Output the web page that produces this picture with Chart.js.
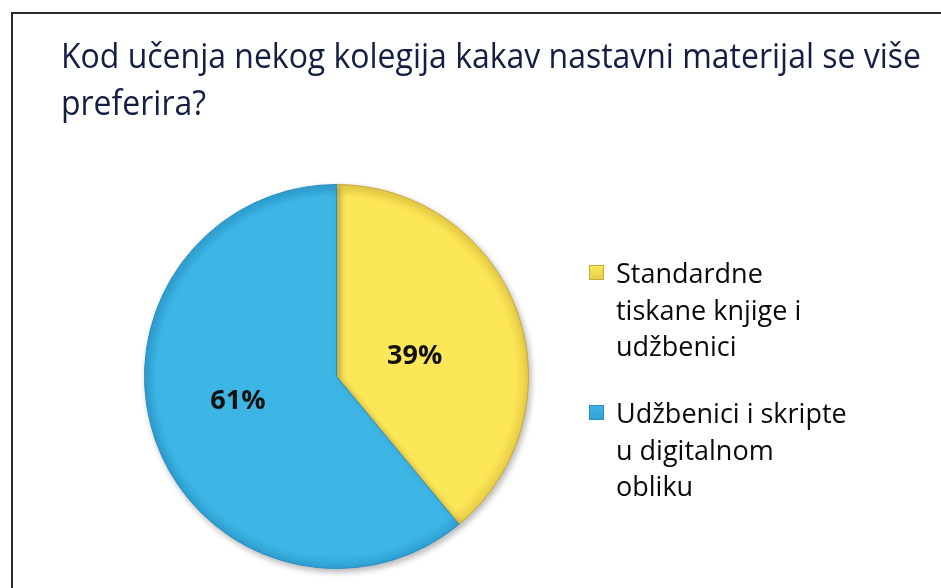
<!DOCTYPE html>
<html>
<head>
<meta charset="utf-8">
<script src="https://cdn.jsdelivr.net/npm/chart.js@4.4.1/dist/chart.umd.min.js"></script>
<style>
    html, body { margin: 0; padding: 0; background: #fff; overflow: hidden; }
    #frame { position: absolute; left: 11px; top: 12px; width: 1000px; height: 1000px; border: 2px solid #2b2b2b; }
    #wrap { position: absolute; left: 0; top: 0; width: 941px; height: 588px; }
</style>
</head>
<body>
<div id="frame"></div>
<div id="wrap"><canvas id="pieChart"></canvas></div>
<script>
const titleLines = ['Kod učenja nekog kolegija kakav nastavni materijal se više', 'preferira?'];
const categories = ['Standardne tiskane knjige i udžbenici', 'Udžbenici i skripte u digitalnom obliku'];
const legendLines = [
    ['Standardne', 'tiskane knjige i', 'udžbenici'],
    ['Udžbenici i skripte', 'u digitalnom', 'obliku']
];
const shares = [39, 61];
const sliceColors = ['#fce758', '#3db6e6'];
const sliceEdges = ['#c9a93c', '#2b8fbf'];
const sliceShades = ['#e8cc45', '#2f9fd2'];

// title drawn on the canvas, squeezed to the width of the original Calibri line
const titlePlugin = {
    id: 'slideTitle',
    afterDraw(chart) {
        const c = chart.ctx;
        c.save();
        c.font = '34px "Open Sans"';
        c.fillStyle = '#141d42';
        c.textBaseline = 'alphabetic';
        const w0 = c.measureText(titleLines[0]).width;
        const k = Math.min(1, 860 / w0);
        titleLines.forEach(function (line, i) {
            const w = c.measureText(line).width;
            c.fillText(line, 61, 68 + i * 47, w * k);
        });
        c.restore();
    }
};

// legend with wrapped lines on the right
const sideLegend = {
    id: 'sideLegend',
    afterDraw(chart) {
        const c = chart.ctx;
        const starts = [283, 423];
        c.save();
        legendLines.forEach(function (lines, i) {
            const y0 = starts[i];
            const g = c.createLinearGradient(589, y0 - 18, 589, y0 - 3);
            g.addColorStop(0, sliceColors[i]);
            g.addColorStop(1, sliceShades[i]);
            c.fillStyle = g;
            c.fillRect(589, y0 - 18, 15, 15);
            c.strokeStyle = sliceEdges[i];
            c.lineWidth = 1;
            c.strokeRect(589.5, y0 - 17.5, 14, 14);
            c.fillStyle = '#0a0a0a';
            c.font = '27px "Open Sans"';
            c.textBaseline = 'alphabetic';
            lines.forEach(function (t, j) {
                c.fillText(t, 616, y0 + j * 36.5);
            });
        });
        c.restore();
    }
};

// percentage labels inside the slices
const pctLabels = {
    id: 'pctLabels',
    afterDatasetsDraw(chart) {
        const c = chart.ctx;
        const arcs = chart.getDatasetMeta(0).data;
        const radiusFactor = [0.42, 0.53];
        c.save();
        c.font = 'bold 27px "Open Sans"';
        c.fillStyle = '#111';
        c.textAlign = 'center';
        c.textBaseline = 'middle';
        arcs.forEach(function (arc, i) {
            const p = arc.getProps(['x', 'y', 'startAngle', 'endAngle', 'outerRadius'], true);
            const mid = (p.startAngle + p.endAngle) / 2 + 0.095;
            const r = p.outerRadius * radiusFactor[i];
            c.fillText(shares[i] + '%', p.x + Math.cos(mid) * r, p.y + Math.sin(mid) * r);
        });
        c.restore();
    }
};

// soft shadow under the pie
const pieShadow = {
    id: 'pieShadow',
    beforeDatasetsDraw(chart) {
        const c = chart.ctx;
        c.save();
        c.shadowColor = 'rgba(0, 0, 0, 0.28)';
        c.shadowBlur = 6;
        c.shadowOffsetX = 2;
        c.shadowOffsetY = 3;
    },
    afterDatasetsDraw(chart) {
        chart.ctx.restore();
    }
};

function bevelFill(context) {
    const i = context.dataIndex;
    const area = context.chart.chartArea;
    if (!area) return sliceColors[i];
    const cx = (area.left + area.right) / 2;
    const cy = (area.top + area.bottom) / 2;
    const r = Math.min(area.width, area.height) / 2;
    const g = context.chart.ctx.createRadialGradient(cx, cy, 0, cx, cy, r);
    g.addColorStop(0, sliceColors[i]);
    g.addColorStop(0.93, sliceColors[i]);
    g.addColorStop(1, sliceShades[i]);
    return g;
}

new Chart(document.getElementById('pieChart'), {
    type: 'pie',
    data: {
        labels: categories,
        datasets: [{
            data: shares,
            backgroundColor: bevelFill,
            borderColor: sliceEdges,
            borderWidth: 1,
            hoverOffset: 0,
            offset: 0
        }]
    },
    options: {
        responsive: true,
        maintainAspectRatio: false,
        animation: false,
        layout: { padding: { top: 184, left: 60, right: 328, bottom: 19 } },
        plugins: {
            legend: { display: false },
            tooltip: { enabled: false },
            title: { display: false }
        }
    },
    plugins: [pieShadow, pctLabels, titlePlugin, sideLegend]
});
</script>
</body>
</html>
